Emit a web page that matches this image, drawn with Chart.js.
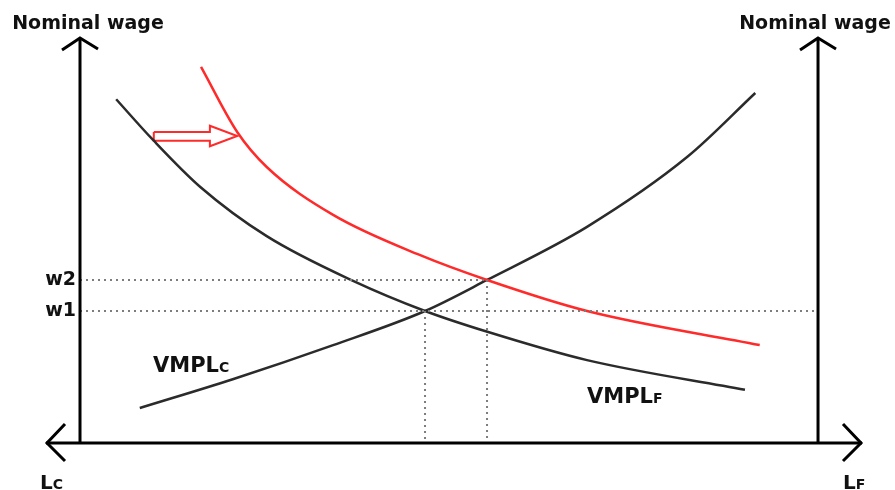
<!DOCTYPE html>
<html>
<head>
<meta charset="utf-8">
<script src="https://cdn.jsdelivr.net/npm/chart.js@4.4.0/dist/chart.umd.min.js"></script>
<style>
    html, body { margin: 0; padding: 0; background: #fff; }
    .wrap { width: 895px; height: 490px; position: relative; }
</style>
</head>
<body>
<div class="wrap"><canvas id="labourChart"></canvas></div>
<script>
// labour units between the two origins (0 .. 100), wage units (0 .. 100)
const vmplDownX = [4.9, 9.9, 16.3, 25.3, 37.0, 46.75, 55.2, 68.7, 90.1];
const vmplDownY = [77.6, 68.4, 57.8, 46.7, 36.6, 29.8, 25.1, 18.7, 12.0];

const shiftedX = [16.4, 21.3, 25.3, 34.3, 46.1, 55.15, 68.7, 92.1];
const shiftedY = [84.9, 70.2, 62.3, 51.5, 42.4, 36.8, 29.8, 22.1];

const vmplUpX = [8.1, 20.7, 34.3, 46.75, 55.15, 68.7, 82.3, 91.5];
const vmplUpY = [7.9, 14.4, 22.1, 29.8, 36.8, 48.8, 64.6, 79.0];

const wageTicks = ['w1', 'w2'];
const wageValues = [29.8, 36.8];
const labourAtWage = [46.75, 55.15];

const shiftArrowX = [10.0, 17.6, 17.6, 21.3, 17.6, 17.6, 10.0, 10.0];
const shiftArrowY = [70.2, 70.2, 71.6, 69.3, 67.0, 68.2, 68.2, 70.2];

const labourTotal = 100;

function pts(xs, ys) {
    return xs.map(function (x, i) { return { x: x, y: ys[i] }; });
}

const dotted = { borderColor: '#7d7d7d', borderWidth: 2, borderDash: [2, 4], pointRadius: 0, fill: false };

const diagramPlugin = {
    id: 'diagram',
    afterDatasetsDraw: function (chart) {
        const ctx = chart.ctx;
        const xs = chart.scales.x;
        const ys = chart.scales.y;
        const x0 = xs.getPixelForValue(0);
        const x1 = xs.getPixelForValue(labourTotal);
        const y0 = ys.getPixelForValue(0);
        const top = 38;

        ctx.save();
        ctx.strokeStyle = '#000';
        ctx.lineWidth = 3;
        ctx.lineCap = 'butt';
        ctx.beginPath();
        ctx.moveTo(x0, top); ctx.lineTo(x0, y0);
        ctx.moveTo(x1, top); ctx.lineTo(x1, y0);
        ctx.moveTo(46, y0); ctx.lineTo(862, y0);
        ctx.stroke();

        // open chevron arrow heads
        ctx.lineJoin = 'miter';
        ctx.beginPath();
        [x0, x1].forEach(function (x) {
            ctx.moveTo(x - 18, top + 12); ctx.lineTo(x, top); ctx.lineTo(x + 18, top + 11);
        });
        ctx.moveTo(65, y0 - 19); ctx.lineTo(47, y0); ctx.lineTo(65, y0 + 18);
        ctx.moveTo(843, y0 - 19); ctx.lineTo(861, y0); ctx.lineTo(843, y0 + 18);
        ctx.stroke();

        ctx.fillStyle = '#111';
        ctx.font = 'bold 19px "DejaVu Sans"';
        ctx.textBaseline = 'middle';
        ctx.textAlign = 'center';
        ctx.fillText('Nominal wage', 88, 24);
        ctx.fillText('Nominal wage', 815, 24);

        ctx.textAlign = 'right';
        wageTicks.forEach(function (t, i) {
            ctx.fillText(t, 76, ys.getPixelForValue(wageValues[i]));
        });

        ctx.textAlign = 'left';
        ctx.textBaseline = 'alphabetic';
        function subLabel(main, sub, x, y, big, small) {
            ctx.font = 'bold ' + big + 'px "DejaVu Sans"';
            ctx.fillText(main, x, y);
            const w = ctx.measureText(main).width;
            ctx.font = 'bold ' + small + 'px "DejaVu Sans"';
            ctx.fillText(sub, x + w, y);
        }
        subLabel('VMPL', 'C', 153, 372, 21, 14);
        subLabel('VMPL', 'F', 587, 403, 21, 14);
        subLabel('L', 'C', 40, 489, 20, 14);
        subLabel('L', 'F', 843, 489, 20, 14);
        ctx.restore();
    }
};

const curveStyle = { borderWidth: 2.5, cubicInterpolationMode: 'monotone', pointRadius: 0, fill: false };

new Chart(document.getElementById('labourChart').getContext('2d'), {
    type: 'line',
    data: {
        datasets: [
            Object.assign({ data: [{ x: 0, y: wageValues[0] }, { x: labourTotal, y: wageValues[0] }] }, dotted),
            Object.assign({ data: [{ x: 0, y: wageValues[1] }, { x: labourAtWage[1], y: wageValues[1] }] }, dotted),
            Object.assign({ data: [{ x: labourAtWage[0], y: wageValues[0] }, { x: labourAtWage[0], y: 0 }] }, dotted),
            Object.assign({ data: [{ x: labourAtWage[1], y: wageValues[1] }, { x: labourAtWage[1], y: 0 }] }, dotted),
            Object.assign({ label: 'VMPL shifted', data: pts(shiftedX, shiftedY), borderColor: '#ff2a2a' }, curveStyle),
            Object.assign({ label: 'VMPL down', data: pts(vmplDownX, vmplDownY), borderColor: '#2b2b2b' }, curveStyle),
            Object.assign({ label: 'VMPL up', data: pts(vmplUpX, vmplUpY), borderColor: '#2b2b2b' }, curveStyle),
            {
                label: 'shift',
                data: pts(shiftArrowX, shiftArrowY),
                borderColor: '#ff2a2a',
                borderWidth: 2,
                tension: 0,
                pointRadius: 0,
                fill: false
            }
        ]
    },
    options: {
        responsive: true,
        maintainAspectRatio: false,
        animation: false,
        layout: { padding: 0 },
        plugins: { legend: { display: false }, tooltip: { enabled: false } },
        scales: {
            x: { type: 'linear', display: false, min: -10.84, max: 110.43 },
            y: { type: 'linear', display: false, min: -10.61, max: 100 }
        }
    },
    plugins: [diagramPlugin]
});
</script>
</body>
</html>
